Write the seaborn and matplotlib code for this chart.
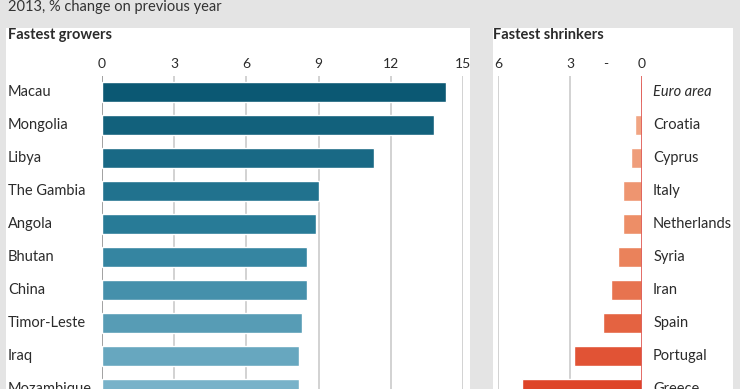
import matplotlib
matplotlib.use("Agg")
import matplotlib.pyplot as plt
import matplotlib.patches as mpatches
import matplotlib.transforms as mtransforms
import pandas as pd
import seaborn as sns

sns.set_style("white")
plt.rcParams["font.family"] = ["Lato", "DejaVu Sans"]

# data
growers = ["Macau", "Mongolia", "Libya", "The Gambia", "Angola", "Bhutan",
           "China", "Timor-Leste", "Iraq", "Mozambique"]
growth = [14.3, 13.8, 11.3, 9.0, 8.9, 8.5, 8.5, 8.3, 8.2, 8.2]

shrinkers = ["Euro area", "Croatia", "Cyprus", "Italy", "Netherlands", "Syria",
             "Iran", "Spain", "Portugal", "Greece"]
shrink = [0.08, 0.28, 0.46, 0.8, 0.8, 1.0, 1.28, 1.62, 2.84, 5.0]

grow_ticks = [0, 3, 6, 9, 12, 15]
shrink_ticks = [6, 3, 1.5, 0]
shrink_ticklabels = ["6", "3", "-", "0"]

W, H = 740, 389
BG = "#e4e4e4"
TXT = "#2b2b2b"

fig = plt.figure(figsize=(W / 100, H / 100), dpi=100, facecolor=BG)

# white panels behind each chart
for x0, x1 in [(6, 470), (493, 733)]:
    fig.add_artist(mpatches.Rectangle((x0 / W, 0), (x1 - x0) / W, 1 - 28 / H,
                                      transform=fig.transFigure,
                                      facecolor="white", edgecolor="none", zorder=0))

# rows are 33px apart, the last one runs off the bottom like the original
row_h = 33
top = 75.5
n = len(growers)
ax_h = n * row_h / H
ax_bottom = 1 - (top + n * row_h) / H


def style_axis(ax):
    ax.xaxis.tick_top()
    ax.tick_params(axis="x", length=0, pad=4, labelsize=10, labelcolor=TXT)
    ax.set_yticks([])
    ax.set_xlabel("")
    ax.set_ylabel("")
    ax.patch.set_alpha(0)
    for s in ax.spines.values():
        s.set_visible(False)


# ---- fastest growers ----
ax1 = fig.add_axes([102 / W, ax_bottom, 361 / W, ax_h])
df_g = pd.DataFrame({"country": growers, "value": growth})
blues = sns.blend_palette(["#0b5873", "#2c7f9c", "#78b2c9"], n)
sns.barplot(data=df_g, y="country", x="value", hue="country", palette=blues,
            width=0.6, saturation=1, legend=False, ax=ax1, zorder=3)
ax1.set_xlim(0, 15)
ax1.set_ylim(n - 0.5, -0.5)
for t in grow_ticks:
    ax1.axvline(t, color="#9a9a9a" if t == 0 else "#cfcfcf", lw=1.3, zorder=1)
ax1.set_xticks(grow_ticks)
style_axis(ax1)

trans1 = mtransforms.blended_transform_factory(fig.transFigure, ax1.transData)
for i, name in enumerate(growers):
    fig.text(8 / W, i, name, transform=trans1, ha="left", va="center",
             fontsize=10.5, color=TXT)

# ---- fastest shrinkers ----
ax2 = fig.add_axes([498 / W, ax_bottom, 144 / W, ax_h])
df_s = pd.DataFrame({"country": shrinkers, "value": shrink})
reds = sns.blend_palette(["#f2ac8c", "#ec8a62", "#de4428"], n)
reds[0] = "#e05a4a"
sns.barplot(data=df_s, y="country", x="value", hue="country", palette=reds,
            width=0.6, saturation=1, legend=False, ax=ax2, zorder=3)
ax2.set_xlim(6, 0)
ax2.set_ylim(n - 0.5, -0.5)
for t in [6, 3]:
    ax2.axvline(t, color="#cfcfcf", lw=1.3, zorder=1)
ax2.axvline(0, color="#e0605a", lw=1.3, zorder=4)
ax2.set_xticks(shrink_ticks)
ax2.set_xticklabels(shrink_ticklabels)
style_axis(ax2)

for i, name in enumerate(shrinkers):
    ax2.annotate(name, xy=(0, i), xytext=(8, 0), textcoords="offset points",
                 ha="left", va="center", fontsize=10.5, color=TXT,
                 style="italic" if name == "Euro area" else "normal",
                 annotation_clip=False)

# titles
fig.text(8 / W, 1 - 35 / H, "Fastest growers", ha="left", va="center",
         fontsize=10.5, fontweight="bold", color=TXT)
fig.text(493 / W, 1 - 35 / H, "Fastest shrinkers", ha="left", va="center",
         fontsize=10.5, fontweight="bold", color=TXT)
fig.text(8 / W, 1 - 7 / H, "2013, % change on previous year", ha="left",
         va="center", fontsize=10.5, color="#333333")

fig.savefig("out.png", dpi=100, facecolor=BG)
